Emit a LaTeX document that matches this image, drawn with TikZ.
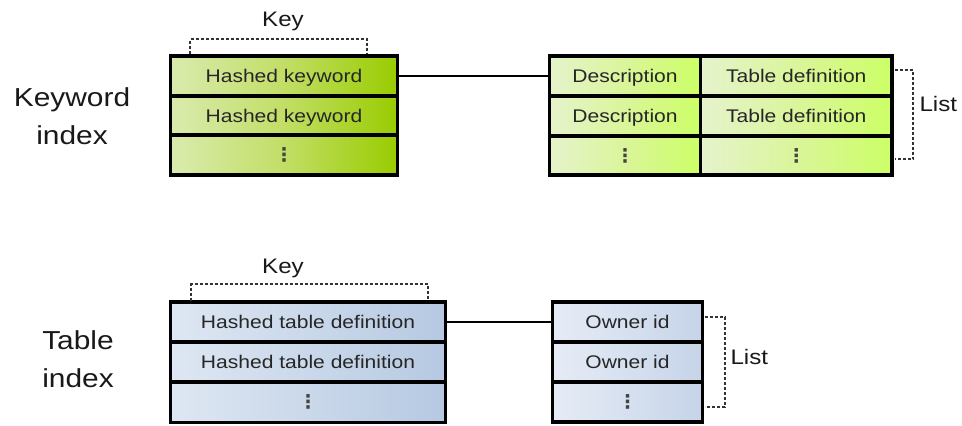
\documentclass[tikz,border=0pt]{standalone}
\usepackage{fontspec}
\setmainfont[FakeStretch=1.15]{Liberation Sans}
\newfontfamily\symfont{DejaVu Sans}
\definecolor{kwL}{HTML}{DAEBAE}
\definecolor{kwR}{HTML}{99CC00}
\definecolor{kwM}{HTML}{C2DE66}
\definecolor{lsL}{HTML}{E6F3CC}
\definecolor{lsR}{HTML}{CCFF66}
\definecolor{lsM}{HTML}{DAF59A}
\definecolor{tbL}{HTML}{DEE7F3}
\definecolor{tbR}{HTML}{B6C9E2}
\definecolor{tbM}{HTML}{CAD8EA}
\definecolor{owL}{HTML}{E6ECF6}
\definecolor{owR}{HTML}{C6D4E9}
\definecolor{owM}{HTML}{D6E0EF}
\definecolor{bracket}{HTML}{333333}
\newcommand{\celldots}{{\symfont\fontsize{19}{21}\selectfont\bfseries\color[HTML]{444444}⋮}}
\begin{document}
\begin{tikzpicture}[x=1pt,y=-1pt,
  cell/.style={draw=black, line width=3.5pt, rectangle, inner sep=0pt, outer sep=0pt,
    font=\fontsize{18.3}{22}\selectfont, text=black!85, text height=13.3pt, text depth=0pt},
  dotcell/.style={text height=, text depth=},
  kwcell/.style={cell, left color=kwL, right color=kwR, middle color=kwM},
  lscell/.style={cell, left color=lsL, right color=lsR, middle color=lsM},
  tbcell/.style={cell, left color=tbL, right color=tbR, middle color=tbM},
  owcell/.style={cell, left color=owL, right color=owR, middle color=owM},
  brace/.style={draw=bracket, line width=1.3pt, dash pattern=on 3pt off 2pt},
  tag/.style={font=\fontsize{21}{24}\selectfont, text=black!90},
  title/.style={font=\fontsize{26}{38}\selectfont, align=center, text=black!90},
  link/.style={draw=black, line width=1.3pt}]
\useasboundingbox (0,0) rectangle (962,426);

% ---- Keyword index ----
\node[title] (kwtitle) at (72,116) {Keyword\\index};

\node[kwcell, minimum width=227pt, minimum height=40pt] (k1) at (284,76) {Hashed keyword};
\node[kwcell, minimum width=227pt, minimum height=39pt] (k2) at (284,115.5) {Hashed keyword};
\node[kwcell, dotcell, minimum width=227pt, minimum height=39.5pt] (k3) at (284,155) {\celldots};

\node[lscell, minimum width=151pt, minimum height=40pt] (d1) at (625,76) {Description};
\node[lscell, minimum width=191.5pt, minimum height=40pt] (t1) at (796.25,76) {Table definition};
\node[lscell, minimum width=151pt, minimum height=40pt] (d2) at (625,116) {Description};
\node[lscell, minimum width=191.5pt, minimum height=40pt] (t2) at (796.25,116) {Table definition};
\node[lscell, dotcell, minimum width=151pt, minimum height=39pt] (d3) at (625,155.5) {\celldots};
\node[lscell, dotcell, minimum width=191.5pt, minimum height=39pt] (t3) at (796.25,155.5) {\celldots};

\draw[link] (k1.east) -- (d1.west);

% key bracket
\coordinate (kkL) at (190,39);
\coordinate (kkR) at (367,39);
\draw[brace] (190,53.5) -- (kkL) -- (kkR) -- (367,53.5);
\node[tag] (kkey) at (283,21) {Key};

% list bracket
\coordinate (klT) at (913,70);
\coordinate (klB) at (913,159);
\draw[brace] (894.5,70) -- (klT) -- (klB) -- (894.5,159);
\node[tag, anchor=west] (klist) at (916,104) {List};

% ---- Table index ----
\node[title] (tbtitle) at (78,359) {Table\\index};

\node[tbcell, minimum width=275pt, minimum height=40pt] (h1) at (308,322) {Hashed table definition};
\node[tbcell, minimum width=275pt, minimum height=40pt] (h2) at (308,362) {Hashed table definition};
\node[tbcell, dotcell, minimum width=275pt, minimum height=40.5pt] (h3) at (308,402.25) {\celldots};

\node[owcell, minimum width=150pt, minimum height=40pt] (o1) at (627.5,322) {Owner id};
\node[owcell, minimum width=150pt, minimum height=40pt] (o2) at (627.5,362) {Owner id};
\node[owcell, dotcell, minimum width=150pt, minimum height=40pt] (o3) at (627.5,402) {\celldots};

\draw[link] (h1.east) -- (o1.west);

% key bracket
\coordinate (tkL) at (191,284);
\coordinate (tkR) at (428,284);
\draw[brace] (191,300.5) -- (tkL) -- (tkR) -- (428,300.5);
\node[tag] (tkey) at (283,268) {Key};

% list bracket
\coordinate (tlT) at (725,317);
\coordinate (tlB) at (725,407);
\draw[brace] (705,317) -- (tlT) -- (tlB) -- (705,407);
\node[tag, anchor=west] (tlist) at (727,357) {List};
\end{tikzpicture}
\end{document}
